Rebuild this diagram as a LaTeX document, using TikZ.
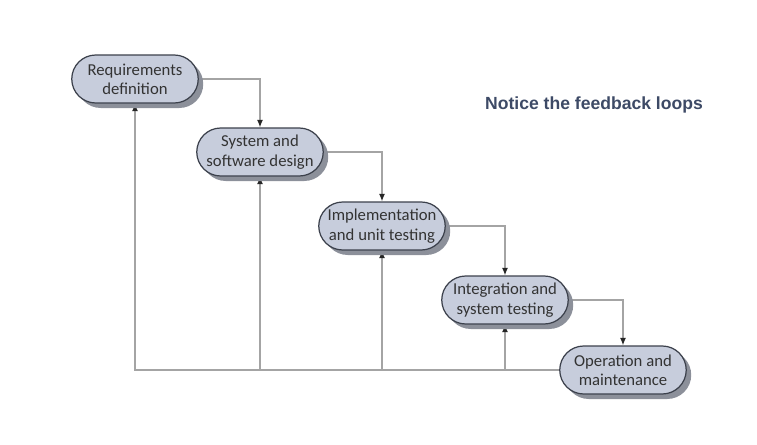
\documentclass[tikz,border=0pt]{standalone}
\usepackage{fontspec}
\setmainfont{Carlito}
\newfontfamily\titlefont{Liberation Sans}
\usetikzlibrary{shapes.misc, shadows, backgrounds, arrows.meta}
\definecolor{stagefill}{HTML}{C7CDDC}
\definecolor{stageline}{HTML}{3C414C}
\definecolor{stageshadow}{HTML}{8C909A}
\definecolor{loopline}{HTML}{A4A4A4}
\definecolor{titleblue}{HTML}{3D4A66}
\begin{document}
\begin{tikzpicture}
    %tikz waterfall
\tikzset{
    stage/.style={rounded rectangle, minimum width=2.6cm, minimum height=0.96cm, inner sep=1pt,
        draw=stageline, line width=0.7pt, fill=stagefill, align=center, text=black!80,
        font=\fontsize{9.5}{11}\selectfont,
        drop shadow={shadow xshift=0.1cm, shadow yshift=-0.1cm, fill=stageshadow, opacity=1}},
    flow/.style={-{Latex[length=1.5mm, width=1.2mm, color=black!85]}, draw=loopline, line width=0.7pt}
}
    \useasboundingbox (0,0) rectangle (15.14,8.88);
    \node[stage](Requirements) at (2.70,7.30) {Requirements\\definition};
    \node[stage](Design) at (5.20,5.84) {System and\\software design};
    \node[stage](Implementation) at (7.64,4.36) {Implementation\\and unit testing};
    \node[stage](Integration) at (10.10,2.88) {Integration and\\system testing};
    \node[stage](Operation) at (12.46,1.48) {Operation and\\maintenance};
    \node[font=\titlefont\bfseries\fontsize{10}{12}\selectfont, text=titleblue](Notice) at (11.88,6.78) {Notice the feedback loops};
    \begin{scope}[on background layer]
    \draw[flow] (Requirements.east) -| (Design.north);
    \draw[flow] (Design.east) -| (Implementation.north);
    \draw[flow] (Implementation.east) -| (Integration.north);
    \draw[flow] (Integration.east) -| (Operation.north);
    \coordinate (Corner) at (Requirements |- Operation.west);
    \draw[flow] (Operation.west) -- (Corner) -- (Requirements.south);
    \draw[flow] (Design |- Operation.west) -- (Design.south);
    \draw[flow] (Implementation |- Operation.west) -- (Implementation.south);
    \draw[flow] (Integration |- Operation.west) -- (Integration.south);
    \end{scope}
  \end{tikzpicture}
\end{document}
